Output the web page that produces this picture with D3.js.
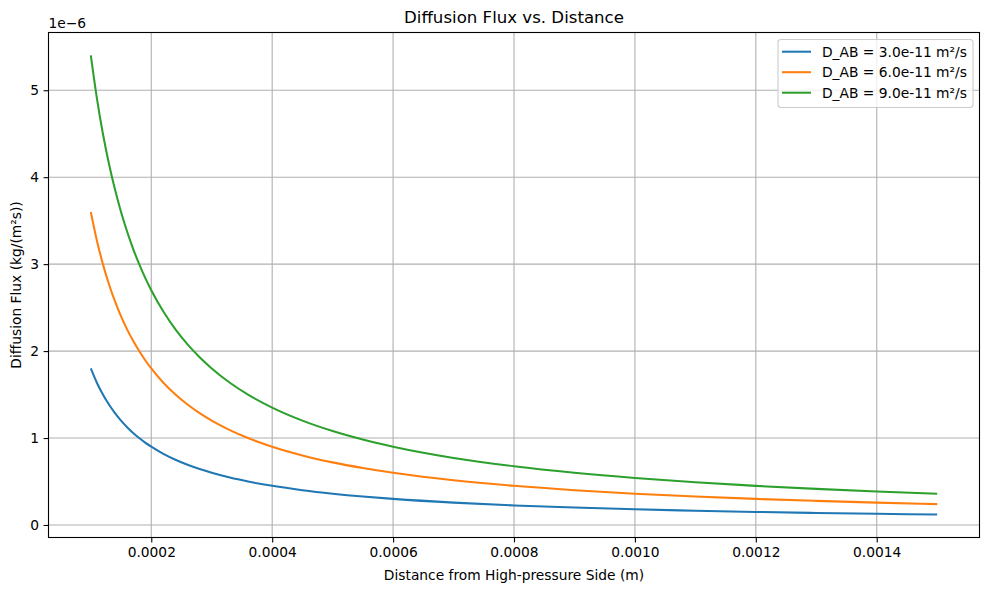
<!DOCTYPE html>
<html><head><meta charset="utf-8">
<script src="https://cdn.jsdelivr.net/npm/d3@7"></script>
<style>body{margin:0;background:#fff}svg{font-family:"DejaVu Sans",sans-serif}</style>
</head><body>
<svg id="c" width="989" height="590"></svg>
<script>
// distance (m)
const distance = [0.0001,0.00011,0.00012,0.00013,0.00014,0.00015,0.00016,0.00017,0.00018,0.00019,0.0002,0.00022,0.00024,0.00026,0.00028,0.0003,0.00033,0.00036,0.0004,0.00045,0.0005,0.00055,0.0006,0.0007,0.0008,0.0009,0.001,0.0011,0.0012,0.0013,0.0014,0.0015];
// flux in units of 1e-6 kg/(m²s)
const flux30 = [1.8,1.636,1.5,1.385,1.286,1.2,1.125,1.059,1.0,0.947,0.9,0.818,0.75,0.692,0.643,0.6,0.545,0.5,0.45,0.4,0.36,0.327,0.3,0.257,0.225,0.2,0.18,0.164,0.15,0.138,0.129,0.12];
const flux60 = [3.6,3.273,3.0,2.769,2.571,2.4,2.25,2.118,2.0,1.895,1.8,1.636,1.5,1.385,1.286,1.2,1.091,1.0,0.9,0.8,0.72,0.655,0.6,0.514,0.45,0.4,0.36,0.327,0.3,0.277,0.257,0.24];
const flux90 = [5.4,4.909,4.5,4.154,3.857,3.6,3.375,3.176,3.0,2.842,2.7,2.455,2.25,2.077,1.929,1.8,1.636,1.5,1.35,1.2,1.08,0.982,0.9,0.771,0.675,0.6,0.54,0.491,0.45,0.415,0.386,0.36];
const seriesNames = ["D_AB = 3.0e-11 m²/s","D_AB = 6.0e-11 m²/s","D_AB = 9.0e-11 m²/s"];
const colors = ["#1f77b4","#ff7f0e","#2ca02c"];
const xTicks = [0.0002,0.0004,0.0006,0.0008,0.0010,0.0012,0.0014];
const xTickLabels = ["0.0002","0.0004","0.0006","0.0008","0.0010","0.0012","0.0014"];
const yTicks = [0,1,2,3,4,5];

const series = [flux30, flux60, flux90];
const L=48.5, R=979.5, T=32.5, B=537.5;
const svg = d3.select("#c");
const x = d3.scaleLinear().domain([0.00003,0.00157]).range([L,R]);
const y = d3.scaleLinear().domain([-0.144,5.664]).range([B,T]);
const fs = 13.8;

// grid
const g = svg.append("g");
g.selectAll("line.gx").data(xTicks).join("line")
 .attr("x1",d=>x(d)).attr("x2",d=>x(d)).attr("y1",T).attr("y2",B)
 .attr("stroke","#b0b0b0").attr("stroke-width",1.1);
g.selectAll("line.gy").data(yTicks).join("line")
 .attr("y1",d=>y(d)).attr("y2",d=>y(d)).attr("x1",L).attr("x2",R)
 .attr("stroke","#b0b0b0").attr("stroke-width",1.1);

// lines
const line = d3.line().curve(d3.curveMonotoneX).x((d,i)=>x(distance[i])).y(d=>y(d));
svg.selectAll("path.s").data(series).join("path")
 .attr("d",line).attr("fill","none")
 .attr("stroke",(d,i)=>colors[i]).attr("stroke-width",2.05);

// axes
const xa = svg.append("g").attr("transform",`translate(0,${B})`)
 .call(d3.axisBottom(x).tickValues(xTicks).tickFormat((d,i)=>xTickLabels[i]).tickSize(4.9).tickPadding(4.5));
const ya = svg.append("g").attr("transform",`translate(${L},0)`)
 .call(d3.axisLeft(y).tickValues(yTicks).tickFormat(d3.format("d")).tickSize(4.9).tickPadding(4.5));
[xa,ya].forEach(a=>{a.select(".domain").remove();a.selectAll("text").attr("font-size",fs).attr("font-family","DejaVu Sans").attr("fill","#000");a.selectAll("line").attr("stroke","#000").attr("stroke-width",1.1);});
svg.append("rect").attr("x",L).attr("y",T).attr("width",R-L).attr("height",B-T)
 .attr("fill","none").attr("stroke","#000").attr("stroke-width",1.1);

// texts
svg.append("text").attr("x",(L+R)/2).attr("y",23).attr("text-anchor","middle").attr("font-size",16.6).text("Diffusion Flux vs. Distance");
svg.append("text").attr("x",(L+R)/2).attr("y",580).attr("text-anchor","middle").attr("font-size",fs).text("Distance from High-pressure Side (m)");
svg.append("text").attr("transform",`translate(21,${(T+B)/2}) rotate(-90)`).attr("text-anchor","middle").attr("font-size",fs).text("Diffusion Flux (kg/(m²s))");
svg.append("text").attr("x",L).attr("y",28).attr("font-size",fs).text("1e−6");

// legend
const lg = svg.append("g");
lg.append("rect").attr("x",778).attr("y",39.5).attr("width",195).attr("height",68).attr("rx",3)
 .attr("fill","#fff").attr("fill-opacity",0.8).attr("stroke","#cccccc").attr("stroke-width",1.1);
seriesNames.forEach((n,i)=>{
  const yy = 51.7 + i*20.5;
  lg.append("line").attr("x1",782).attr("x2",811).attr("y1",yy).attr("y2",yy).attr("stroke",colors[i]).attr("stroke-width",2.05);
  lg.append("text").attr("x",822).attr("y",yy+5).attr("font-size",fs).text(n);
});
</script>
</body></html>
